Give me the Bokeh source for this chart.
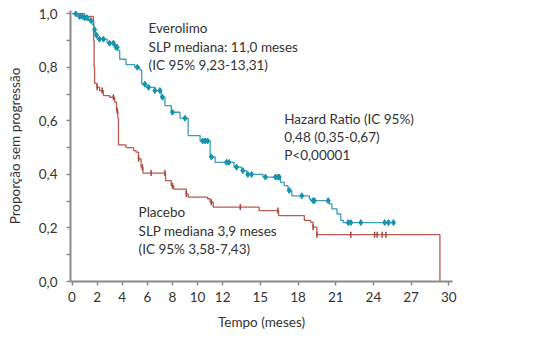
import numpy as np
from bokeh.plotting import figure
from bokeh.models import FixedTicker, CustomJSTickFormatter, Label
from bokeh.embed import file_html
from bokeh.resources import INLINE

# ---- data ----
ever_t = [0, 0.4, 0.9, 1.3, 1.6, 1.75, 1.85, 2.0, 2.8, 3.4, 3.65, 3.8, 4.3, 5.0, 5.4, 5.55, 5.9, 6.6,
          7.1, 7.4, 7.9, 8.6, 9.25, 10.2, 11.0, 11.4, 12.9, 13.5, 13.9, 15.2, 16.6, 16.9, 17.2, 17.5,
          18.9, 19.0, 20.5, 20.7, 21.1, 21.4, 21.6, 25.7]
ever_s = [1.0, 0.99, 0.985, 0.975, 0.96, 0.94, 0.92, 0.905, 0.89, 0.875, 0.862, 0.83, 0.81, 0.80, 0.79,
          0.737, 0.725, 0.713, 0.688, 0.657, 0.632, 0.61, 0.545, 0.525, 0.465, 0.445, 0.427, 0.414,
          0.40, 0.39, 0.37, 0.358, 0.34, 0.32, 0.309, 0.302, 0.29, 0.271, 0.252, 0.228, 0.22, 0.22]
ever_cens = [0.3, 0.6, 0.8, 1.0, 1.2, 1.5, 1.8, 1.95, 2.2, 2.5, 3.0, 3.3, 3.5, 3.6, 5.2, 5.8, 6.1, 6.6,
             7.0, 7.2, 8.0, 9.0, 10.4, 10.6, 10.8, 11.1, 12.3, 12.5, 13.1, 13.6, 14.0, 14.3, 15.4, 16.2,
             16.4, 16.5, 17.3, 18.3, 19.2, 19.3, 20.4, 22.0, 22.2, 23.0, 24.9, 25.2, 25.6]

plac_t = [0, 1.0, 1.7, 1.72, 1.76, 1.8, 2.0, 2.2, 2.5, 3.0, 3.4, 3.55, 3.65, 3.7, 4.3, 4.9, 5.1, 5.3,
          5.5, 5.65, 7.45, 7.9, 8.1, 9.1, 9.25, 10.8, 11.0, 11.25, 14.9, 16.45, 18.5, 19.0, 19.2,
          19.5, 29.3]
plac_s = [1.0, 0.99, 0.98, 0.90, 0.80, 0.74, 0.725, 0.713, 0.694, 0.688, 0.67, 0.638, 0.61, 0.51, 0.50,
          0.489, 0.483, 0.458, 0.427, 0.405, 0.377, 0.358, 0.345, 0.327, 0.315, 0.309, 0.296, 0.278,
          0.265, 0.246, 0.228, 0.222, 0.203, 0.175, 0.0]
plac_cens = [2.0, 2.4, 3.3, 3.6, 5.3, 5.6, 6.3, 7.4, 8.0, 9.1, 11.1, 13.4, 16.4, 19.2, 19.5, 22.2,
             24.1, 24.3, 24.7, 25.0]

x_ticks = [0, 2, 4, 6, 8, 10, 12, 15, 18, 21, 24, 27, 30]
y_ticks = [0.0, 0.2, 0.4, 0.6, 0.8, 1.0]
y_minor = [0.1, 0.3, 0.5, 0.7, 0.9]


def surv_at(ts, ss, c):
    ts = np.asarray(ts)
    ss = np.asarray(ss)
    i = np.searchsorted(ts, c, side="right") - 1
    return ss[i]


FONT = "Lato"
TXT = "#333333"
AX = "#8a8a8a"
TEAL_LINE = "#3a9fb6"
TEAL_MK = "#1593ad"
RED_LINE = "#b85a4e"
RED_MK = "#a8443a"

p = figure(width=550, height=346, x_range=(-0.12, 30.3), y_range=(0, 1.012),
           output_backend="svg", toolbar_location=None,
           min_border_left=70, min_border_right=98, min_border_top=10, min_border_bottom=65)
p.outline_line_color = None
p.grid.visible = False
p.background_fill_color = "white"
p.border_fill_color = "white"

p.step(x=plac_t, y=plac_s, mode="after", line_color=RED_LINE, line_width=1.3)
p.step(x=ever_t, y=ever_s, mode="after", line_color=TEAL_LINE, line_width=1.3)

pc_y = [float(surv_at(plac_t, plac_s, c)) for c in plac_cens]
ec_y = [float(surv_at(ever_t, ever_s, c)) for c in ever_cens]
p.scatter(x=plac_cens, y=pc_y, marker="dash", angle=np.pi / 2, size=6, line_color=RED_MK, line_width=1.5)
p.scatter(x=ever_cens, y=ec_y, marker="diamond", size=6, fill_color=TEAL_MK, line_color=TEAL_MK)

# axes
p.xaxis.ticker = FixedTicker(ticks=x_ticks)
p.yaxis.ticker = FixedTicker(ticks=y_ticks, minor_ticks=y_minor)
p.yaxis.formatter = CustomJSTickFormatter(code="return tick.toFixed(1).replace('.', ',');")
for ax in (p.xaxis[0], p.yaxis[0]):
    ax.axis_line_color = AX
    ax.axis_line_width = 2
    ax.major_tick_line_color = AX
    ax.major_tick_line_width = 1.5
    ax.major_tick_out = 4
    ax.major_tick_in = 0
    ax.major_label_text_font = FONT
    ax.major_label_text_font_size = "13.5px"
    ax.major_label_text_color = TXT
    ax.axis_label_text_font = FONT
    ax.axis_label_text_font_size = "13.5px"
    ax.axis_label_text_font_style = "normal"
    ax.axis_label_text_color = TXT
p.xaxis.minor_tick_line_color = None
p.yaxis.minor_tick_line_color = AX
p.yaxis.minor_tick_line_width = 1.5
p.yaxis.minor_tick_out = 4
p.yaxis.minor_tick_in = 0
p.xaxis.major_label_standoff = 6
p.yaxis.major_label_standoff = 9
p.xaxis.axis_label = "Tempo (meses)"
p.yaxis.axis_label = "Proporção sem progressão"
p.xaxis.axis_label_standoff = 9
p.yaxis.axis_label_standoff = 13


def add_text(x, y, s):
    p.add_layout(Label(x=x, y=y, text=s, text_font=FONT, text_font_size="13.5px",
                       text_color=TXT, text_baseline="middle", text_align="left"))


add_text(6.1, 0.945, "Everolimo")
add_text(6.1, 0.874, "SLP mediana: 11,0 meses")
add_text(6.1, 0.807, "(IC 95% 9,23-13,31)")
add_text(16.9, 0.608, "Hazard Ratio (IC 95%)")
add_text(16.9, 0.539, "0,48 (0,35-0,67)")
add_text(16.9, 0.474, "P<0,00001")
add_text(5.3, 0.259, "Placebo")
add_text(5.3, 0.190, "SLP mediana 3,9 meses")
add_text(5.3, 0.122, "(IC 95% 3,58-7,43)")

open("out.html", "w").write(file_html(p, INLINE))
